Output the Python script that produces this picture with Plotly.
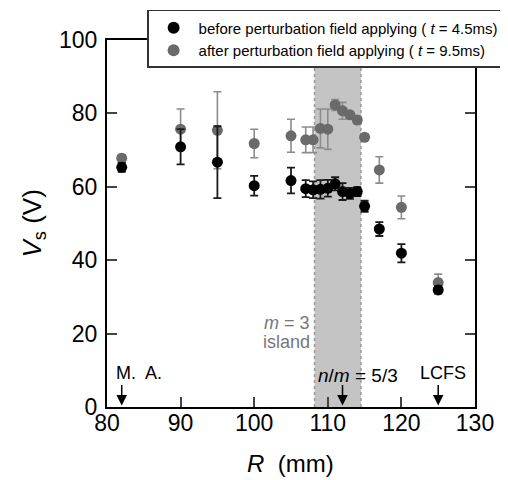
import plotly.graph_objects as go

# ---- data ----
R_mm = [82, 90, 95, 100, 105, 107, 108, 109, 110, 111, 112, 113, 114, 115, 117, 120, 125]
vs_before = [65.3, 70.9, 66.7, 60.3, 61.7, 59.5, 59.2, 59.3, 59.6, 60.8, 58.7, 58.2, 58.7, 54.7, 48.5, 41.9, 31.9]
vs_before_err = [1.2, 4.8, 9.8, 2.7, 3.5, 2.3, 2.3, 2.5, 2.3, 1.8, 2.3, 1.5, 1.2, 1.5, 1.9, 2.5, 1.0]
vs_after = [67.8, 75.7, 75.4, 71.8, 73.9, 72.8, 72.8, 75.9, 75.7, 82.3, 80.7, 79.6, 78.2, 73.5, 64.6, 54.4, 33.9]
vs_after_err = [1.0, 5.5, 10.5, 3.9, 4.5, 3.5, 3.5, 5.3, 5.5, 1.5, 2.3, 1.0, 1.0, 0.8, 3.6, 3.1, 2.3]

island_band = [108.2, 114.5]
markers_R = [82, 112, 125]
markers_text = ["M.  A.", "<i>n</i>/<i>m</i> = 5/3", "LCFS"]

x_ticks = [80, 90, 100, 110, 120, 130]
y_ticks = [0, 20, 40, 60, 80, 100]

FONT = "Liberation Sans, Arial, Helvetica, sans-serif"

fig = go.Figure()

# island band
fig.add_shape(type="rect", xref="x", yref="y", x0=island_band[0], x1=island_band[1],
              y0=0, y1=100, fillcolor="#c4c4c4", line=dict(width=0), layer="below")
for xb in island_band:
    fig.add_shape(type="line", xref="x", yref="y", x0=xb, x1=xb, y0=0, y1=100,
                  line=dict(color="#9a9a9a", width=1.5, dash="dot"), layer="below")

fig.add_trace(go.Scatter(
    x=R_mm, y=vs_after, mode="markers",
    name="after perturbation field applying ( <i>t</i> = 9.5ms)",
    marker=dict(color="#6a6a6a", size=11),
    error_y=dict(type="data", array=vs_after_err, color="#8c8c8c", thickness=1.6, width=4),
))
fig.add_trace(go.Scatter(
    x=R_mm, y=vs_before, mode="markers",
    name="before perturbation field applying ( <i>t</i> = 4.5ms)",
    marker=dict(color="#000000", size=11),
    error_y=dict(type="data", array=vs_before_err, color="#1a1a1a", thickness=1.8, width=4),
))

# arrows + labels
for xr in markers_R:
    fig.add_annotation(x=xr, y=0.4, xref="x", yref="y", text="", showarrow=True,
                       ax=0, ay=-22, arrowhead=2, arrowsize=1.4, arrowwidth=1.5,
                       arrowcolor="#000")
fig.add_annotation(x=markers_R[0], y=0, xref="x", yref="y", text=markers_text[0],
                   showarrow=False, xanchor="left", yanchor="middle", xshift=-8, yshift=34,
                   font=dict(family=FONT, size=18, color="#000"))
fig.add_annotation(x=markers_R[1], y=0, xref="x", yref="y", text=markers_text[1],
                   showarrow=False, xanchor="center", yanchor="middle", xshift=15, yshift=32,
                   font=dict(family=FONT, size=19, color="#000"))
fig.add_annotation(x=markers_R[2], y=0, xref="x", yref="y", text=markers_text[2],
                   showarrow=False, xanchor="center", yanchor="middle", xshift=5, yshift=34,
                   font=dict(family=FONT, size=18, color="#000"))

fig.add_annotation(x=island_band[0], y=0, xref="x", yref="y", text="<i>m</i> = 3",
                   showarrow=False, xanchor="right", yanchor="middle", xshift=-3, yshift=84,
                   font=dict(family=FONT, size=18, color="#777"))
fig.add_annotation(x=island_band[0], y=0, xref="x", yref="y", text="island",
                   showarrow=False, xanchor="right", yanchor="middle", xshift=-3, yshift=65,
                   font=dict(family=FONT, size=18, color="#777"))

# axis titles
fig.add_annotation(x=0.5, y=0, xref="paper", yref="paper", text="<i>R</i>  (mm)",
                   showarrow=False, xanchor="center", yanchor="middle", yshift=-56, xshift=-1,
                   font=dict(family=FONT, size=24, color="#000"))
fig.add_annotation(x=0, y=0.5, xref="paper", yref="paper", text="<i>V</i><sub>s</sub> (V)",
                   showarrow=False, textangle=-90, xanchor="center", yanchor="middle",
                   xshift=-74, yshift=0,
                   font=dict(family=FONT, size=26, color="#000"))

# page body has an 8px margin: size the figure so the plot lands where the reference has it
fig.update_layout(
    width=500, height=472,
    margin=dict(l=99, r=33, t=32, b=73, autoexpand=False),
    paper_bgcolor="white", plot_bgcolor="white",
    font=dict(family=FONT, size=23, color="#000"),
    showlegend=True,
    legend=dict(x=0.109, y=1.082, xanchor="left", yanchor="top",
                bgcolor="white", bordercolor="#333", borderwidth=1.5,
                font=dict(family=FONT, size=15, color="#000"),
                traceorder="reversed", itemsizing="constant", itemwidth=40,
                tracegroupgap=0),
    xaxis=dict(range=[80, 130], tickvals=x_ticks, ticks="inside", ticklen=10, tickwidth=2,
               showline=True, linewidth=2.2, linecolor="#000", mirror="ticks",
               showgrid=False, zeroline=False, tickfont=dict(size=23),
               ticklabelstandoff=-6),
    yaxis=dict(range=[0, 100], tickvals=y_ticks, ticks="inside", ticklen=10, tickwidth=2,
               showline=True, linewidth=2.2, linecolor="#000", mirror="ticks",
               showgrid=False, zeroline=False, tickfont=dict(size=23),
               ticklabelstandoff=3),
)

fig.write_html("out.html")
